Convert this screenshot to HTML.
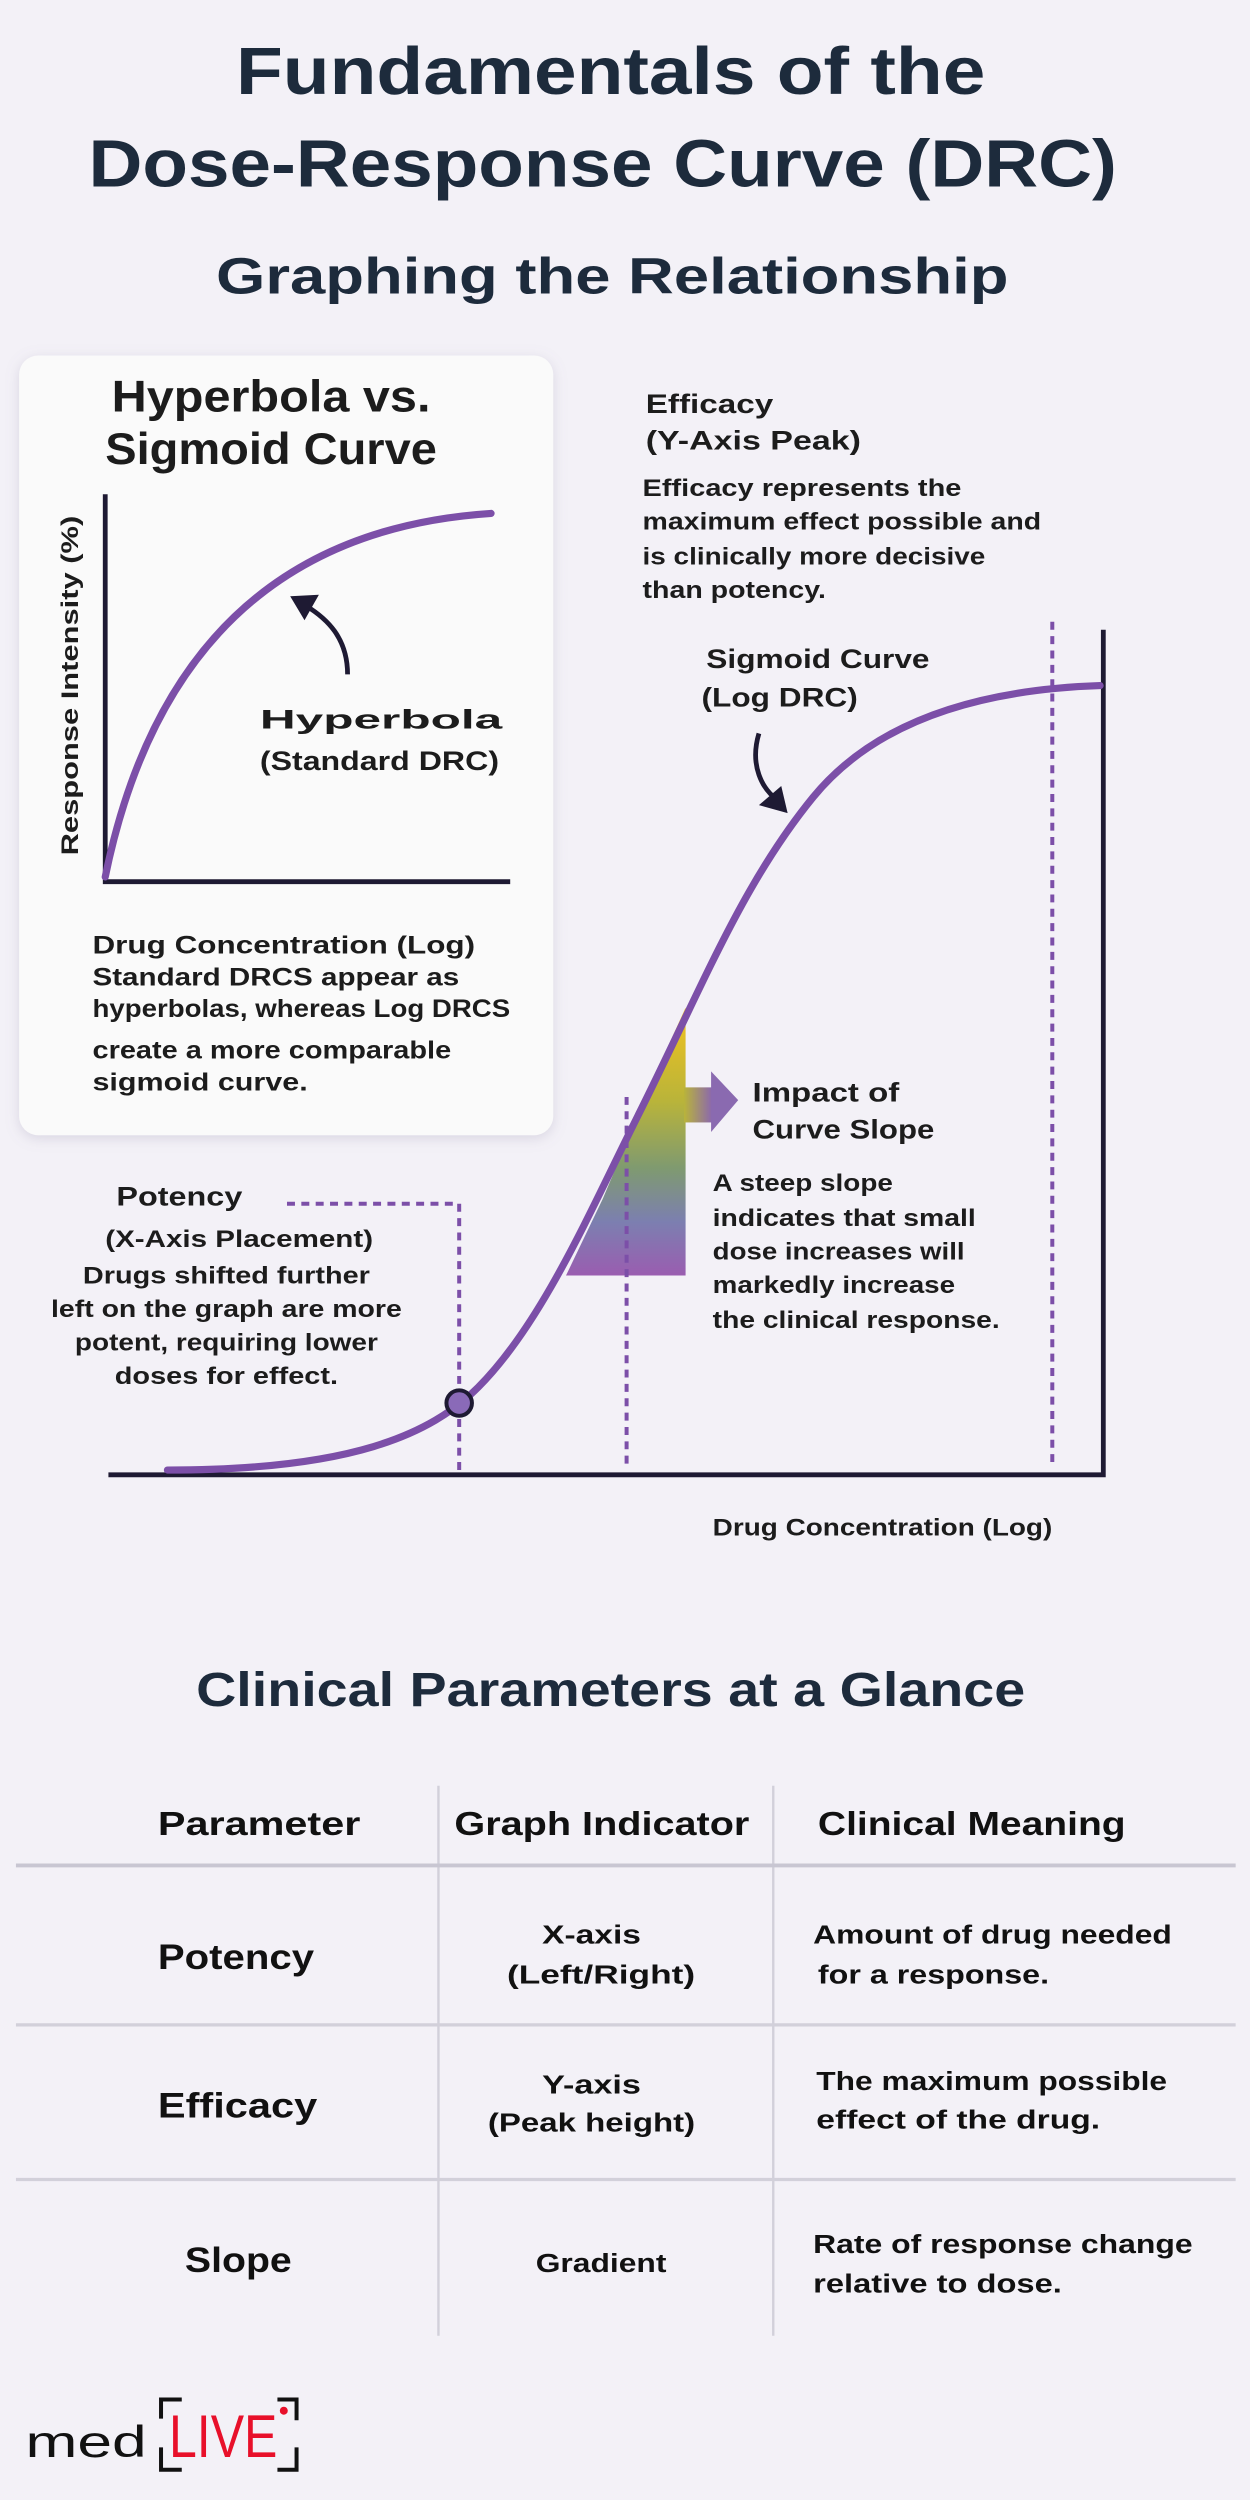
<!DOCTYPE html>
<html><head><meta charset="utf-8"><style>
html,body{margin:0;padding:0;background:#f3f1f7;}
svg{display:block;}
text{font-family:"Liberation Sans",sans-serif;font-weight:bold;}
</style></head><body>
<svg width="1250" height="2500" viewBox="0 0 784 1568" xmlns="http://www.w3.org/2000/svg">
<defs>
<linearGradient id="g" x1="0" y1="0" x2="0" y2="1">
<stop offset="0" stop-color="#f2c21e"/><stop offset="0.35" stop-color="#b9b43a"/>
<stop offset="0.6" stop-color="#7f9a70"/><stop offset="0.8" stop-color="#7c7fb0"/><stop offset="1" stop-color="#9a5db0"/>
</linearGradient>
<linearGradient id="ga" x1="0" y1="0" x2="1" y2="0">
<stop offset="0" stop-color="#b9b43a"/><stop offset="1" stop-color="#8a66b0"/>
</linearGradient>
<filter id="sh" x="-10%" y="-10%" width="120%" height="120%"><feDropShadow dx="0" dy="2" stdDeviation="4" flood-color="#8a80a0" flood-opacity="0.25"/></filter>
</defs>
<rect width="784" height="1568" fill="#f3f1f7"/>
<g fill="#1d2b3c" text-anchor="middle">
<text x="383" y="59" font-size="42" textLength="470" lengthAdjust="spacingAndGlyphs">Fundamentals of the</text>
<text x="378" y="117" font-size="42" textLength="645" lengthAdjust="spacingAndGlyphs">Dose-Response Curve (DRC)</text>
<text x="384" y="184" font-size="32" textLength="497" lengthAdjust="spacingAndGlyphs">Graphing the Relationship</text>
<text x="383" y="1070" font-size="30" textLength="520" lengthAdjust="spacingAndGlyphs">Clinical Parameters at a Glance</text>
</g>
<!-- card -->
<rect x="12" y="223" width="335" height="489" rx="12" fill="#fafafa" filter="url(#sh)"/>
<g fill="#1c1c1c">
<text x="170" y="258" font-size="28" text-anchor="middle" textLength="200" lengthAdjust="spacingAndGlyphs">Hyperbola vs.</text>
<text x="170" y="291" font-size="28" text-anchor="middle" textLength="208" lengthAdjust="spacingAndGlyphs">Sigmoid Curve</text>
<text transform="translate(49,430) rotate(-90)" font-size="15" text-anchor="middle" textLength="213" lengthAdjust="spacingAndGlyphs">Response Intensity (%)</text>
<text x="163" y="457" font-size="17" textLength="152" lengthAdjust="spacingAndGlyphs">Hyperbola</text>
<text x="163" y="483" font-size="17" textLength="150" lengthAdjust="spacingAndGlyphs">(Standard DRC)</text>
<g font-size="15.5">
<text x="58" y="598" textLength="240" lengthAdjust="spacingAndGlyphs">Drug Concentration (Log)</text>
<text x="58" y="618" textLength="230" lengthAdjust="spacingAndGlyphs">Standard DRCS appear as</text>
<text x="58" y="638" textLength="262" lengthAdjust="spacingAndGlyphs">hyperbolas, whereas Log DRCS</text>
<text x="58" y="664" textLength="225" lengthAdjust="spacingAndGlyphs">create a more comparable</text>
<text x="58" y="684" textLength="135" lengthAdjust="spacingAndGlyphs">sigmoid curve.</text>
</g>
</g>
<path d="M66,310 V553 H320" fill="none" stroke="#1e1a33" stroke-width="3"/>
<path d="M66,550 Q110,335 308,322" fill="none" stroke="#7c4fa8" stroke-width="4.5" stroke-linecap="round"/>
<path d="M218,423 C218,400 205,388 192,380" fill="none" stroke="#1e1a33" stroke-width="3"/>
<polygon points="182,374 200,373 191,389" fill="#1e1a33"/>
<!-- main chart -->
<polygon points="355,800 378,752 400,700 415,665 430,632 430,800" fill="url(#g)"/>
<rect x="429" y="682" width="18" height="22" fill="url(#ga)"/>
<polygon points="446,672 463,690 446,710" fill="#8a6ab0"/>
<g stroke="#7c4fa8" stroke-width="2.5" stroke-dasharray="5,4" fill="none">
<path d="M180,755 H288 V925"/>
<path d="M393,688 V918"/>
<path d="M660,390 V918"/>
</g>
<path d="M68,925 H692 V395" fill="none" stroke="#1e1a33" stroke-width="3"/>
<path d="M105,922 C220,922 270,900 300,870 C340,830 370,760 400,700 C440,620 465,555 510,500 C555,445 630,432 690,430" fill="none" stroke="#7c4fa8" stroke-width="4.5" stroke-linecap="round"/>
<circle cx="288" cy="880" r="8" fill="#8a6ab8" stroke="#1e1a33" stroke-width="2.5"/>
<path d="M476,460 C470,480 478,495 488,502" fill="none" stroke="#1e1a33" stroke-width="3"/>
<polygon points="494,510 476,505 490,493" fill="#1e1a33"/>
<g fill="#1c1c1c">
<text x="405" y="259" font-size="17" textLength="80" lengthAdjust="spacingAndGlyphs">Efficacy</text>
<text x="405" y="282" font-size="17" textLength="135" lengthAdjust="spacingAndGlyphs">(Y-Axis Peak)</text>
<g font-size="15">
<text x="403" y="311" textLength="200" lengthAdjust="spacingAndGlyphs">Efficacy represents the</text>
<text x="403" y="332" textLength="250" lengthAdjust="spacingAndGlyphs">maximum effect possible and</text>
<text x="403" y="354" textLength="215" lengthAdjust="spacingAndGlyphs">is clinically more decisive</text>
<text x="403" y="375" textLength="115" lengthAdjust="spacingAndGlyphs">than potency.</text>
</g>
<text x="443" y="419" font-size="17" textLength="140" lengthAdjust="spacingAndGlyphs">Sigmoid Curve</text>
<text x="440" y="443" font-size="17" textLength="98" lengthAdjust="spacingAndGlyphs">(Log DRC)</text>
<text x="472" y="691" font-size="17" textLength="92" lengthAdjust="spacingAndGlyphs">Impact of</text>
<text x="472" y="714" font-size="17" textLength="114" lengthAdjust="spacingAndGlyphs">Curve Slope</text>
<g font-size="15">
<text x="447" y="747" textLength="113" lengthAdjust="spacingAndGlyphs">A steep slope</text>
<text x="447" y="769" textLength="165" lengthAdjust="spacingAndGlyphs">indicates that small</text>
<text x="447" y="790" textLength="158" lengthAdjust="spacingAndGlyphs">dose increases will</text>
<text x="447" y="811" textLength="152" lengthAdjust="spacingAndGlyphs">markedly increase</text>
<text x="447" y="833" textLength="180" lengthAdjust="spacingAndGlyphs">the clinical response.</text>
</g>
<text x="73" y="756" font-size="17" textLength="79" lengthAdjust="spacingAndGlyphs">Potency</text>
<g font-size="15" text-anchor="middle">
<text x="150" y="782" textLength="168" lengthAdjust="spacingAndGlyphs">(X-Axis Placement)</text>
<text x="142" y="805" textLength="180" lengthAdjust="spacingAndGlyphs">Drugs shifted further</text>
<text x="142" y="826" textLength="220" lengthAdjust="spacingAndGlyphs">left on the graph are more</text>
<text x="142" y="847" textLength="190" lengthAdjust="spacingAndGlyphs">potent, requiring lower</text>
<text x="142" y="868" textLength="140" lengthAdjust="spacingAndGlyphs">doses for effect.</text>
</g>
<text x="447" y="963" font-size="15" textLength="213" lengthAdjust="spacingAndGlyphs">Drug Concentration (Log)</text>
</g>
<!-- table -->
<g stroke="#d2d0da" stroke-width="1.5">
<line x1="275" y1="1120" x2="275" y2="1465"/>
<line x1="485" y1="1120" x2="485" y2="1465"/>
<line x1="10" y1="1170" x2="775" y2="1170" stroke="#c8c6d2" stroke-width="2.5"/>
<line x1="10" y1="1270" x2="775" y2="1270" stroke-width="2"/>
<line x1="10" y1="1367" x2="775" y2="1367" stroke-width="2"/>
</g>
<g fill="#111">
<text x="99" y="1151" font-size="21" textLength="127" lengthAdjust="spacingAndGlyphs">Parameter</text>
<text x="285" y="1151" font-size="21" textLength="185" lengthAdjust="spacingAndGlyphs">Graph Indicator</text>
<text x="513" y="1151" font-size="21" textLength="193" lengthAdjust="spacingAndGlyphs">Clinical Meaning</text>
<text x="99" y="1235" font-size="22" textLength="98" lengthAdjust="spacingAndGlyphs">Potency</text>
<text x="99" y="1328" font-size="22" textLength="100" lengthAdjust="spacingAndGlyphs">Efficacy</text>
<text x="116" y="1425" font-size="22" textLength="67" lengthAdjust="spacingAndGlyphs">Slope</text>
<g font-size="16.5" text-anchor="middle">
<text x="371" y="1219" textLength="62" lengthAdjust="spacingAndGlyphs">X-axis</text>
<text x="377" y="1244" textLength="118" lengthAdjust="spacingAndGlyphs">(Left/Right)</text>
<text x="371" y="1313" textLength="62" lengthAdjust="spacingAndGlyphs">Y-axis</text>
<text x="371" y="1337" textLength="130" lengthAdjust="spacingAndGlyphs">(Peak height)</text>
<text x="377" y="1425" textLength="82" lengthAdjust="spacingAndGlyphs">Gradient</text>
</g>
<g font-size="16.5">
<text x="510" y="1219" textLength="225" lengthAdjust="spacingAndGlyphs">Amount of drug needed</text>
<text x="513" y="1244" textLength="145" lengthAdjust="spacingAndGlyphs">for a response.</text>
<text x="512" y="1311" textLength="220" lengthAdjust="spacingAndGlyphs">The maximum possible</text>
<text x="512" y="1335" textLength="178" lengthAdjust="spacingAndGlyphs">effect of the drug.</text>
<text x="510" y="1413" textLength="238" lengthAdjust="spacingAndGlyphs">Rate of response change</text>
<text x="510" y="1438" textLength="156" lengthAdjust="spacingAndGlyphs">relative to dose.</text>
</g>
</g>
<!-- logo -->
<text x="16" y="1541" font-size="28" fill="#111" textLength="76" lengthAdjust="spacingAndGlyphs" style="font-weight:normal">med</text>
<text x="106" y="1541" font-size="38" fill="#e8102a" textLength="68" lengthAdjust="spacingAndGlyphs" style="font-weight:normal">LIVE</text>
<circle cx="178" cy="1512" r="2.5" fill="#e8102a"/>
<g fill="none" stroke="#111" stroke-width="2.5">
<path d="M101,1517 V1505 H114"/>
<path d="M101,1535 V1549 H114"/>
<path d="M174,1505 H186 V1518"/>
<path d="M174,1549 H186 V1535"/>
</g>
</svg>
</body></html>
